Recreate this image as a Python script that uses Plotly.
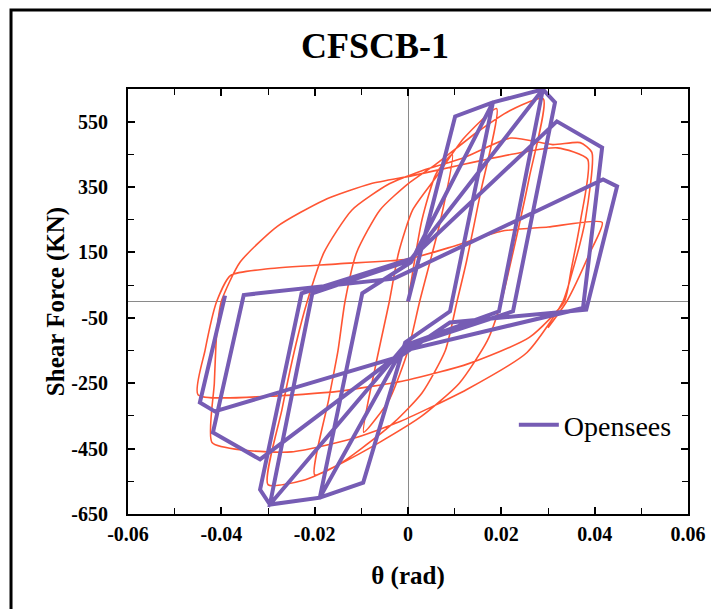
import plotly.graph_objects as go

# ---- Data ----
# Opensees simulation (purple polyline)
os_theta = [0.0, 0.0101, 0.0182, 0.0090, -0.0006, -0.0096, -0.0189, -0.0098, 0.0006, 0.0182,
            0.0289, 0.0195, -0.0008, -0.0189, -0.0296, -0.0205, 0.0004, 0.0289, 0.0315, 0.0225,
            -0.0010, -0.0296, -0.0317, -0.0228, 0.0006, 0.0319, 0.0416, 0.0375, -0.0008, -0.0317,
            -0.0418, -0.0352, -0.0030, 0.0418, 0.0448, 0.0382, 0.0090, -0.0017, -0.0414, -0.0446,
            -0.0392]
os_force = [0, 566, 609, -30, -125, -554, -600, 25, 120, 609,
            649, -30, -135, -600, -621, 25, 125, 649, 609, -30,
            -140, -621, -575, 25, 130, 551, 471, -20, -150, -483,
            -401, 20, 70, 373, 352, -25, -64, -168, -336, -309,
            18]

# Test result (red curve)
ex_theta = [0.0, 0.003, 0.006, 0.0095, 0.007, 0.0025, 0.0, -0.004, -0.0095, -0.007,
            -0.004, -0.002, 0.001, 0.006, 0.012, 0.019, 0.0155, 0.0125, 0.0105, 0.008,
            0.003, -0.003, -0.010, -0.015, -0.020, -0.017, -0.015, -0.0135, -0.011, -0.006,
            0.0, 0.006, 0.015, 0.022, 0.029, 0.026, 0.0225, 0.020, 0.017, 0.011,
            0.003, -0.006, -0.015, -0.022, -0.030, -0.027, -0.024, -0.0216, -0.018, -0.012,
            -0.004, 0.003, 0.012, 0.022, 0.031, 0.0369, 0.0394, 0.038, 0.035, 0.0332,
            0.0255, 0.0126, -0.0017, -0.012, -0.025, -0.035, -0.042, -0.0415, -0.041, -0.040,
            -0.036, -0.028, -0.018, -0.008, 0.001, 0.012, 0.024, 0.032, 0.0385, 0.037,
            0.035, 0.0335, 0.026, 0.013, 0.0, -0.015, -0.030, -0.045, -0.0435, -0.041,
            -0.038, -0.030, -0.015, 0.0, 0.010, 0.020, 0.030, 0.0416, 0.039, 0.034,
            0.030]
ex_force = [0, 250, 390, 450, 250, 0, -150, -300, -400, -200,
            0, 150, 280, 380, 500, 590, 330, 120, 0, -150,
            -280, -370, -450, -500, -530, -300, -150, 0, 150, 280,
            360, 420, 520, 585, 620, 380, 150, 0, -120, -250,
            -350, -430, -500, -545, -560, -330, -130, 0, 150, 280,
            360, 400, 440, 500, 480, 486, 456, 250, 80, 0,
            -156, -269, -367, -420, -460, -455, -431, -250, -100, 0,
            120, 230, 310, 360, 385, 420, 455, 470, 435, 250,
            100, 0, -110, -190, -240, -275, -290, -285, -150, 0,
            80, 100, 115, 130, 170, 215, 228, 242, 150, 0,
            -80]

x_tickvals = [-0.06, -0.04, -0.02, 0, 0.02, 0.04, 0.06]
x_ticktext = ["-0.06", "-0.04", "-0.02", "0", "0.02", "0.04", "0.06"]
y_tickvals = [-650, -450, -250, -50, 150, 350, 550]
y_ticktext = ["-650", "-450", "-250", "-50", "150", "350", "550"]

PURPLE = "#765CB4"
RED = "#FF5533"
FONT = "Liberation Serif"

fig = go.Figure()
fig.add_trace(go.Scatter(x=ex_theta, y=ex_force, mode="lines", name="Test",
                         line=dict(color=RED, width=1.6, shape="spline", smoothing=0.6),
                         showlegend=False))
fig.add_trace(go.Scatter(x=os_theta, y=os_force, mode="lines", name="Opensees",
                         line=dict(color=PURPLE, width=4)))

axis_common = dict(showline=True, linecolor="black", linewidth=2, mirror="ticks",
                   ticks="inside", ticklen=7, tickwidth=1.5, tickcolor="black",
                   showgrid=False, zeroline=True, zerolinecolor="#8a8a8a", zerolinewidth=1.2,
                   tickfont=dict(family=FONT, size=20, color="black", weight="bold"))

fig.update_xaxes(range=[-0.06, 0.06], tickvals=x_tickvals, ticktext=x_ticktext,
                 minor=dict(ticks="inside", ticklen=6, tickwidth=1.2, tickcolor="black", dtick=0.01),
                 title=dict(text="θ (rad)", font=dict(family=FONT, size=25, color="black", weight="bold"),
                            standoff=22),
                 ticklabelstandoff=1, **axis_common)
fig.update_yaxes(range=[-650, 650], tickvals=y_tickvals, ticktext=y_ticktext,
                 minor=dict(ticks="inside", ticklen=6, tickwidth=1.2, tickcolor="black",
                            tick0=-650, dtick=100),
                 title=dict(text="Shear Force (KN)", font=dict(family=FONT, size=25, color="black", weight="bold"),
                            standoff=0),
                 ticklabelstandoff=14, **axis_common)

fig.update_layout(
    width=711, height=601,
    margin=dict(l=120, r=31, t=81, b=95),
    paper_bgcolor="white", plot_bgcolor="white",
    title=dict(text="CFSCB-1", x=0.441, xref="paper", xanchor="center",
               y=0.938, yref="container", yanchor="middle",
               font=dict(family=FONT, size=36, color="black", weight="bold")),
    legend=dict(x=0.689, y=0.209, xanchor="left", yanchor="middle", itemwidth=40,
                bgcolor="rgba(0,0,0,0)", borderwidth=0,
                font=dict(family=FONT, size=28, color="black")),
    shapes=[dict(type="rect", xref="paper", yref="paper",
                 x0=-0.2089, x1=1.0446, y0=-0.2376, y1=1.1859,
                 line=dict(color="black", width=3), fillcolor="rgba(0,0,0,0)", layer="below")],
)

fig.write_html("out.html")
